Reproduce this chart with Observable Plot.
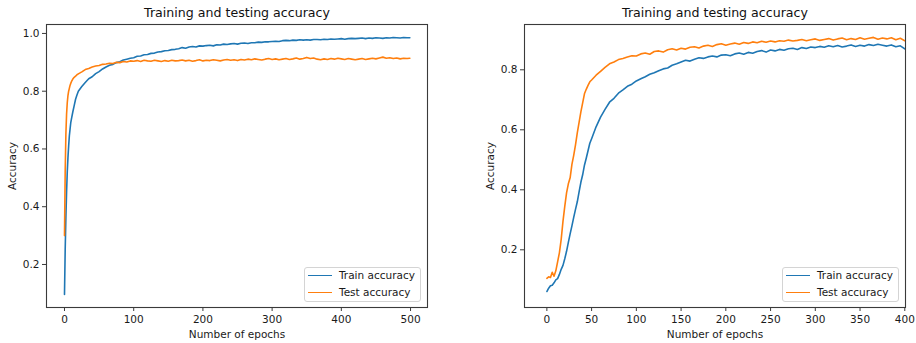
<!DOCTYPE html>
<html><head><meta charset="utf-8">
<script src="https://cdn.jsdelivr.net/npm/d3@7"></script>
<script src="https://cdn.jsdelivr.net/npm/@observablehq/plot@0.6"></script>
<style>
body{margin:0;background:#fff;font-family:"DejaVu Sans",sans-serif;}
#wrap{display:flex;width:916px;height:343px;}
.panel{position:relative;width:458px;height:343px;}
.legend{position:absolute;background:rgba(255,255,255,0.85);border:1px solid #d4d4d4;border-radius:3px;box-sizing:border-box;font-size:10.5px;color:#1a1a1a;width:117px;height:35px;}
.sw{position:absolute;height:0;border-top:1.6px solid;width:23.5px;left:3px;}
.lbl{position:absolute;left:34px;line-height:12px;white-space:nowrap;}
</style></head>
<body>
<div id="wrap"></div>
<script>
const SERIES = ["Train accuracy", "Test accuracy"];
const COLORS = ["#1f77b4", "#ff7f0e"];
const TITLE = "Training and testing accuracy";
const XLABEL = "Number of epochs";
const YLABEL = "Accuracy";

// Left chart
const epochsL = [0,1,2,3,4,5,6,7,8,9,10,12,14,16,18,20,
25,30,35,40,45,50,55,60,65,70,75,80,85,90,95,100,105,110,115,120,125,130,135,140,145,150,155,160,165,170,175,180,185,190,195,200,
205,210,215,220,225,230,235,240,245,250,255,260,265,270,275,280,285,290,295,300,305,310,315,320,325,330,335,340,345,350,355,360,365,370,375,380,385,390,395,400,
405,410,415,420,425,430,435,440,445,450,455,460,465,470,475,480,485,490,495,499];
const trainL = [0.096,0.25,0.36,0.45,0.52,0.57,0.61,0.645,0.668,0.69,0.703,
0.728,0.75,0.772,0.787,0.80,
0.816,0.83,0.843,0.85,0.861,0.868,0.877,0.884,0.89,0.893,
0.899,0.902,0.908,0.911,0.914,0.916,0.921,0.922,0.926,0.927,
0.931,0.932,0.936,0.937,0.94,0.941,0.944,0.945,0.947,0.951,
0.949,0.953,0.955,0.953,0.957,0.956,0.958,0.959,0.957,0.961,
0.96,0.963,0.962,0.964,0.965,0.963,0.966,0.967,0.965,0.968,
0.968,0.970,0.969,0.971,0.971,0.972,0.973,0.972,0.975,0.976,
0.975,0.977,0.976,0.978,0.977,0.978,0.977,0.979,0.979,0.978,
0.98,0.979,0.981,0.980,0.981,0.982,0.98,0.982,0.983,0.982,
0.983,0.984,0.982,0.984,0.983,0.985,0.984,0.983,0.985,0.984,
0.986,0.985,0.984,0.986,0.985,
0.985];
const testL = [0.30,0.52,0.65,0.72,0.76,0.785,0.80,0.81,0.82,0.827,0.833,
0.842,0.848,0.852,0.857,0.86,
0.867,0.875,0.879,0.884,0.887,0.889,0.893,0.894,0.897,0.896,
0.90,0.899,0.903,0.901,0.905,0.904,0.906,0.903,0.907,0.905,
0.904,0.907,0.905,0.903,0.906,0.904,0.907,0.905,0.906,0.908,
0.905,0.907,0.904,0.906,0.909,0.905,0.907,0.906,0.909,0.907,
0.905,0.908,0.91,0.907,0.909,0.906,0.91,0.908,0.911,0.909,
0.912,0.91,0.908,0.911,0.913,0.91,0.912,0.909,0.911,0.913,
0.91,0.912,0.915,0.911,0.913,0.917,0.913,0.915,0.911,0.909,
0.912,0.91,0.913,0.911,0.914,0.912,0.91,0.913,0.911,0.909,
0.911,0.913,0.91,0.912,0.914,0.912,0.915,0.918,0.914,0.916,
0.913,0.915,0.912,0.914,0.913,
0.914];
const xTicksL = [0,100,200,300,400,500];
const yTicksL = [0.2,0.4,0.6,0.8,1.0];

// Right chart
const epochsR = [0,2,4,6,8,10,12,14,16,18,20,22,24,26,28,30,32,34,36,38,40,42,44,46,48,50,
55,60,65,70,75,80,85,90,95,100,105,110,115,120,125,130,135,140,145,150,155,160,165,170,175,180,185,190,195,200,
205,210,215,220,225,230,235,240,245,250,255,260,265,270,275,280,285,290,295,300,305,310,315,320,325,330,335,340,345,350,355,360,365,370,375,380,385,390,395,400];
const trainR = [0.061,0.072,0.08,0.082,0.09,0.10,0.104,0.118,0.135,0.148,
0.17,0.195,0.225,0.253,0.28,0.308,0.335,0.36,0.393,0.425,
0.45,0.482,0.505,0.53,0.555,0.57,
0.61,0.642,0.668,0.692,0.705,0.722,0.733,0.745,0.752,0.763,
0.77,0.777,0.785,0.79,0.797,0.803,0.806,0.815,0.82,0.826,
0.832,0.829,0.835,0.84,0.838,0.843,0.846,0.843,0.849,0.85,
0.847,0.853,0.856,0.852,0.858,0.855,0.861,0.864,0.859,0.866,
0.863,0.868,0.865,0.87,0.872,0.868,0.874,0.871,0.876,0.874,
0.878,0.875,0.88,0.877,0.881,0.876,0.879,0.883,0.878,0.882,
0.879,0.884,0.881,0.885,0.882,0.879,0.883,0.877,0.88,0.87];
const testR = [0.105,0.11,0.108,0.125,0.112,0.13,0.16,0.19,0.235,0.295,
0.345,0.39,0.42,0.44,0.485,0.515,0.55,0.59,0.625,0.66,
0.69,0.72,0.735,0.748,0.76,0.766,
0.782,0.795,0.808,0.82,0.826,0.834,0.838,0.843,0.847,0.846,
0.853,0.856,0.852,0.861,0.863,0.859,0.867,0.87,0.866,0.872,
0.869,0.875,0.877,0.873,0.879,0.882,0.878,0.884,0.887,0.882,
0.886,0.889,0.885,0.891,0.888,0.893,0.89,0.895,0.892,0.896,
0.893,0.897,0.895,0.899,0.896,0.898,0.901,0.897,0.9,0.903,
0.898,0.901,0.904,0.899,0.903,0.906,0.9,0.904,0.901,0.907,
0.902,0.905,0.908,0.902,0.906,0.903,0.907,0.9,0.905,0.897];
const xTicksR = [0,50,100,150,200,250,300,350,400];
const yTicksR = [0.2,0.4,0.6,0.8];

function makeChart(o) {
  const rows = [];
  o.epochs.forEach((e, i) => {
    rows.push({epoch: e, acc: o.train[i], s: SERIES[0]});
  });
  o.epochs.forEach((e, i) => {
    rows.push({epoch: e, acc: o.test[i], s: SERIES[1]});
  });
  return Plot.plot({
    width: 458, height: 343,
    marginLeft: o.ml, marginRight: o.mr, marginTop: 24, marginBottom: 36,
    style: {fontFamily: "DejaVu Sans", fontSize: "10.5px", color: "#1a1a1a", background: "white", overflow: "visible"},
    x: {domain: o.xd},
    y: {domain: o.yd},
    color: {domain: SERIES, range: COLORS},
    marks: [
      Plot.line(rows, {x: "epoch", y: "acc", z: "s", stroke: "s", strokeWidth: 1.6, clip: true}),
      Plot.frame({stroke: "#3a3a3a", strokeWidth: 1.1}),
      Plot.axisX({ticks: o.xt, tickSize: 4, tickPadding: 4, label: null, tickFormat: d => String(d), stroke: "#3a3a3a"}),
      Plot.axisY({ticks: o.yt, tickSize: 4, tickPadding: 3, label: null, tickFormat: d3.format(".1f"), stroke: "#3a3a3a"}),
      Plot.text([TITLE], {frameAnchor: "top", dy: -12, fontSize: 12.6, lineAnchor: "middle", textAnchor: "middle", fill: "#111"}),
      Plot.text([XLABEL], {frameAnchor: "bottom", dy: 27, lineAnchor: "middle", textAnchor: "middle", fill: "#1a1a1a"}),
      Plot.text([YLABEL], {frameAnchor: "left", dx: o.ydx, rotate: -90, lineAnchor: "middle", textAnchor: "middle", fill: "#1a1a1a"})
    ]
  });
}

function makeLegend(left, top) {
  const lg = document.createElement("div");
  lg.className = "legend";
  lg.style.left = left + "px";
  lg.style.top = top + "px";
  SERIES.forEach((name, i) => {
    const cy = i === 0 ? 8 : 24.7;
    const sw = document.createElement("div");
    sw.className = "sw";
    sw.style.top = (cy - 0.8) + "px";
    sw.style.borderTopColor = COLORS[i];
    const t = document.createElement("div");
    t.className = "lbl";
    t.style.top = (cy - 6.5) + "px";
    t.textContent = name;
    lg.appendChild(sw);
    lg.appendChild(t);
  });
  return lg;
}

const wrap = document.getElementById("wrap");
const configs = [
  {epochs: epochsL, train: trainL, test: testL, xt: xTicksL, yt: yTicksL, xd: [-26, 524.5], yd: [0.051, 1.031], ml: 46, mr: 31, ydx: -34, lgx: 304},
  {epochs: epochsR, train: trainR, test: testR, xt: xTicksR, yt: yTicksR, xd: [-25, 400.8], yd: [0.0077, 0.951], ml: 66, mr: 11, ydx: -33.6, lgx: 324}
];
configs.forEach(c => {
  const p = document.createElement("div");
  p.className = "panel";
  p.appendChild(makeChart(c));
  p.appendChild(makeLegend(c.lgx, 266.7));
  wrap.appendChild(p);
});
</script>
</body></html>
